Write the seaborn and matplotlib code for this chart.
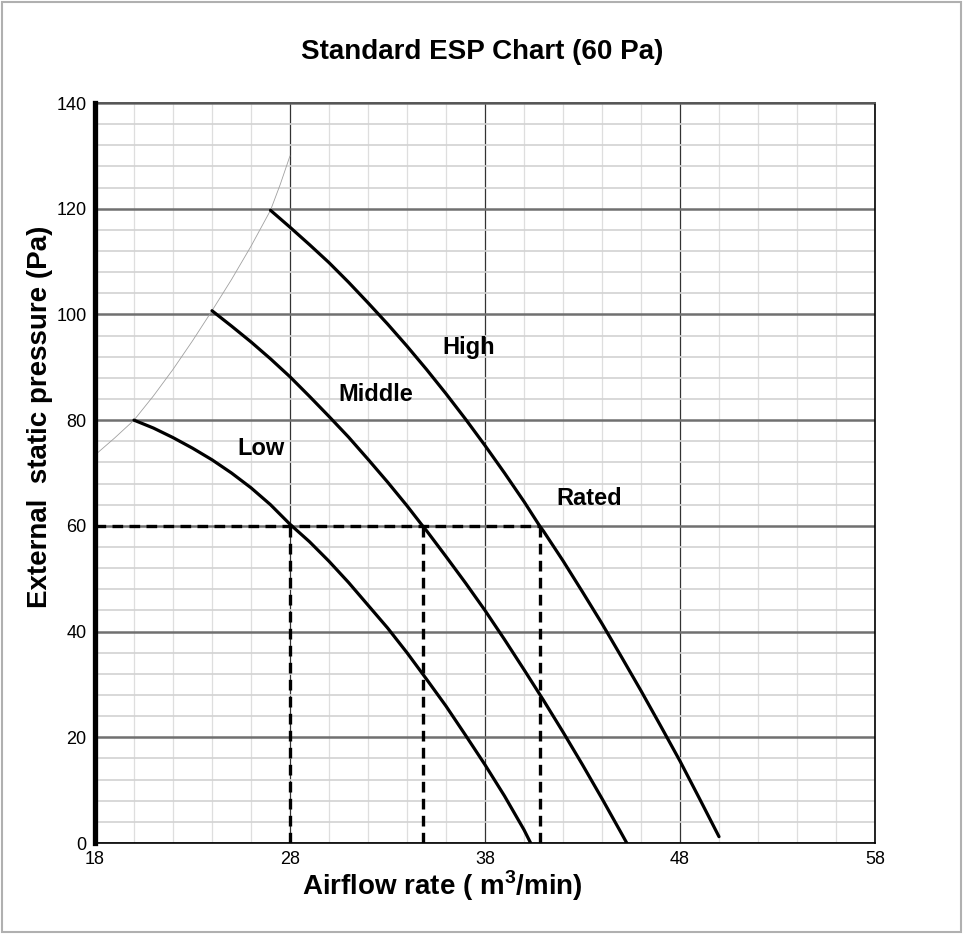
import matplotlib
matplotlib.use('Agg')
import matplotlib.pyplot as plt
import seaborn as sns
import pandas as pd
from matplotlib.patches import Rectangle
from matplotlib.ticker import MultipleLocator

# Fan curves (airflow m3/min, ESP Pa)
low_flow = [20, 21, 22, 23, 24, 25, 26, 27, 28, 29, 30, 31, 32, 33, 34, 35, 36, 37,
            38, 39, 40, 40.34]
low_esp = [80.0, 78.5, 76.7, 74.7, 72.5, 70.0, 67.2, 64.0, 60.3, 57.0, 53.3, 49.3,
           45.0, 40.7, 36.0, 31.0, 25.9, 20.4, 14.8, 8.9, 2.5, 0.0]
mid_flow = [24, 25, 26, 27, 28, 29, 30, 31, 32, 33, 34, 34.8, 35, 36, 37, 38, 39, 40,
            41, 42, 43, 44, 45, 45.27]
mid_esp = [100.7, 97.8, 94.8, 91.6, 88.2, 84.5, 80.7, 76.8, 72.6, 68.3, 63.8, 60.0,
           59.1, 54.2, 49.2, 44.0, 38.5, 32.8, 27.0, 21.0, 14.8, 8.4, 1.8, 0.0]
high_flow = [27, 28, 29, 30, 31, 32, 33, 34, 35, 36, 37, 38, 39, 40, 40.8, 41, 42, 43,
             44, 45, 46, 47, 48, 49, 50]
high_esp = [119.7, 116.5, 113.2, 109.8, 106.1, 102.2, 98.2, 94.0, 89.6, 85.0, 80.2,
            75.2, 70.0, 64.6, 60.0, 59.0, 53.4, 47.5, 41.5, 35.2, 28.8, 22.2, 15.5,
            8.4, 1.2]

# thin limit line through the curve start points
limit_flow = [18, 19, 20, 21, 22, 23, 24, 25, 26, 27, 27.5, 28]
limit_esp = [73.4, 76.6, 80.0, 84.6, 89.6, 95.0, 100.7, 106.6, 112.9, 119.7, 124.6, 130.0]

# rated point (60 Pa) for each fan speed
rated_esp = 60
rated_flow = [28.0, 34.8, 40.8]

curve_names = ['Low', 'Middle', 'High']
x_ticks = [18, 28, 38, 48, 58]
y_ticks = [0, 20, 40, 60, 80, 100, 120, 140]
label_x = [26.5, 32.4, 37.15, 43.35]
label_y = [74.7, 84.9, 93.7, 65.1]
label_text = ['Low', 'Middle', 'High', 'Rated']

df = pd.concat([
    pd.DataFrame({'flow': low_flow, 'esp': low_esp, 'speed': 'Low'}),
    pd.DataFrame({'flow': mid_flow, 'esp': mid_esp, 'speed': 'Middle'}),
    pd.DataFrame({'flow': high_flow, 'esp': high_esp, 'speed': 'High'}),
])

sns.set_style('white')
plt.rcParams['font.family'] = ['Liberation Sans', 'DejaVu Sans']
plt.rcParams['text.color'] = 'black'
plt.rcParams['xtick.color'] = 'black'
plt.rcParams['ytick.color'] = 'black'
plt.rcParams['mathtext.fontset'] = 'custom'
plt.rcParams['mathtext.rm'] = 'Liberation Sans'
plt.rcParams['mathtext.bf'] = 'Liberation Sans:bold'

fig = plt.figure(figsize=(9.63, 9.34), dpi=100)
ax = fig.add_axes([95 / 963, 1 - 843 / 934, 780 / 963, 740 / 934])

# grid
ax.set_xlim(18, 58)
ax.set_ylim(0, 140)
ax.set_xticks(x_ticks)
ax.set_yticks(y_ticks)
ax.xaxis.set_minor_locator(MultipleLocator(2))
ax.yaxis.set_minor_locator(MultipleLocator(4))
ax.xaxis.grid(True, which='major', color='#333333', lw=0.9)
ax.xaxis.grid(True, which='minor', color='#dedede', lw=0.9)
ax.yaxis.grid(True, which='major', color='#707070', lw=1.8)
ax.yaxis.grid(True, which='minor', color='#d2d2d2', lw=1.2)
ax.set_axisbelow(True)

sns.lineplot(x=limit_flow, y=limit_esp, color='#a0a0a0', lw=0.6, ax=ax, sort=False)
for name in curve_names:
    sub = df[df['speed'] == name]
    sns.lineplot(data=sub, x='flow', y='esp', color='black', lw=2.3, ax=ax,
                 sort=False, estimator=None)

# rated markers
ax.plot([18, max(rated_flow)], [rated_esp, rated_esp], color='black', lw=2.4,
        dashes=(3.2, 1.9), zorder=5)
for f in rated_flow:
    ax.plot([f, f], [0, rated_esp], color='black', lw=2.4, dashes=(3.2, 1.9), zorder=5)

for tx, ty, t in zip(label_x, label_y, label_text):
    ax.text(tx, ty, t, fontsize=17, fontweight='bold', ha='center', va='center')

# spines / ticks
ax.spines['left'].set_linewidth(3.8)
ax.spines['left'].set_color('black')
ax.spines['left'].set_zorder(6)
ax.spines['bottom'].set_linewidth(1.2)
ax.spines['bottom'].set_color('black')
ax.spines['right'].set_linewidth(1.2)
ax.spines['right'].set_color('black')
ax.spines['top'].set_linewidth(1.4)
ax.spines['top'].set_color('#555555')
ax.tick_params(which='major', direction='out', length=4, width=1, color='black',
               labelsize=13, pad=2)
ax.tick_params(which='minor', length=0)
ax.set_xlabel('')
ax.set_ylabel('')

fig.text(482 / 963, 1 - 52 / 934, 'Standard ESP Chart (60 Pa)', fontsize=20,
         fontweight='bold', ha='center', va='center')
fig.text(442 / 963, 1 - 886 / 934, 'Airflow rate ( m$^{\\mathbf{3}}$/min)', fontsize=20,
         fontweight='bold', ha='center', va='center')
fig.text(40 / 963, 1 - 417 / 934, 'External  static pressure (Pa)', fontsize=20,
         fontweight='bold', ha='center', va='center', rotation=90)

fig.patches.append(Rectangle((2 / 963, 2 / 934), 959 / 963, 930 / 934,
                             transform=fig.transFigure, fill=False,
                             edgecolor='#b0b0b0', lw=1.5))

fig.savefig('out.png', dpi=100)
